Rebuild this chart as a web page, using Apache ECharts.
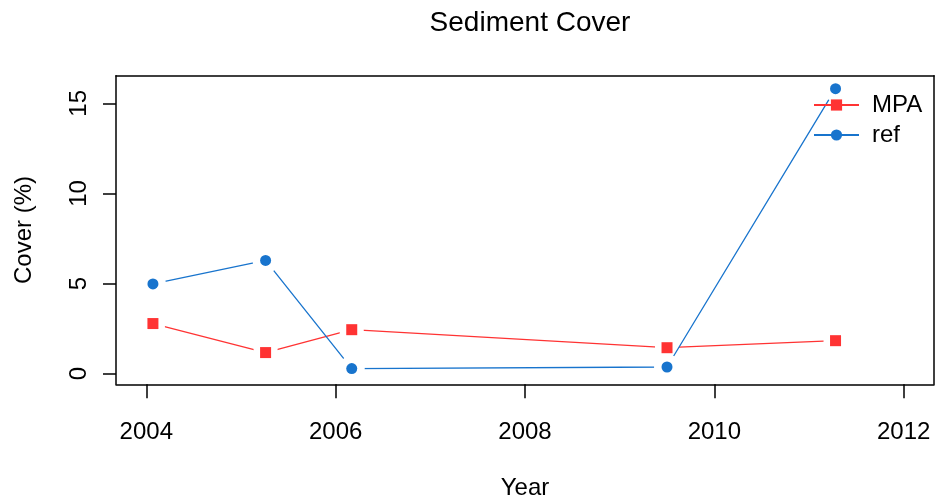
<!DOCTYPE html>
<html>
<head>
<meta charset="utf-8">
<script src="https://cdn.jsdelivr.net/npm/echarts@6/dist/echarts.min.js"></script>
<style>html,body{margin:0;padding:0;background:#fff;}#c{width:936px;height:499px;}</style>
</head>
<body>
<div id="c"></div>
<script>
var years = [2004.07, 2005.26, 2006.17, 2009.50, 2011.28];
var mpaValues = [2.78, 1.17, 2.44, 1.44, 1.83];
var refValues = [4.98, 6.28, 0.28, 0.37, 15.81];
var xTicks = [2004, 2006, 2008, 2010, 2012];
var yTicks = [0, 5, 10, 15];
var seriesNames = ['MPA', 'ref'];

function pairs(xs, ys) { return xs.map(function (x, i) { return [x, ys[i]]; }); }

var FONT = '"Liberation Sans", Arial, Helvetica, sans-serif';
var RED = '#FF3333';
var BLUE = '#1874CD';
var XMIN = 2003.68, XMAX = 2012.32, YMIN = -0.59, YMAX = 16.53;
var frameLine = { show: true, onZero: false, lineStyle: { color: '#000', width: 1.5 } };

var chart = echarts.init(document.getElementById('c'), null, { renderer: 'canvas' });
chart.setOption({
  animation: false,
  backgroundColor: '#fff',
  title: {
    text: 'Sediment Cover',
    left: 525, top: 4, textAlign: 'center',
    textStyle: { fontFamily: FONT, fontSize: 28, fontWeight: 'normal', color: '#000' }
  },
  grid: {
    left: 116, right: 2, top: 75.7, bottom: 114.7,
    outerBoundsMode: 'none', containLabel: false, show: false
  },
  legend: {
    orient: 'vertical', left: 808, top: 88,
    itemWidth: 45, itemHeight: 14, itemGap: 6,
    textStyle: { fontFamily: FONT, fontSize: 24, color: '#000', lineHeight: 24, padding: [0, 0, 0, 8] },
    data: [
      { name: seriesNames[0], itemStyle: { borderWidth: 0, color: RED } },
      { name: seriesNames[1], itemStyle: { borderWidth: 0, color: BLUE } }
    ]
  },
  xAxis: [{
    type: 'value', min: XMIN, max: XMAX, position: 'bottom', z: 10,
    name: 'Year', nameLocation: 'middle', nameGap: 92,
    nameTextStyle: { fontFamily: FONT, fontSize: 24, color: '#000' },
    axisLine: frameLine,
    splitLine: { show: false },
    axisTick: { show: true, length: 14, lineStyle: { color: '#000', width: 1.5 }, customValues: xTicks },
    axisLabel: { fontFamily: FONT, fontSize: 24, color: '#000', margin: 36, customValues: xTicks,
      formatter: function (v) { return String(v); } }
  }, {
    type: 'value', min: XMIN, max: XMAX, position: 'top', z: 10,
    axisLine: frameLine, axisTick: { show: false }, axisLabel: { show: false }, splitLine: { show: false }
  }],
  yAxis: [{
    type: 'value', min: YMIN, max: YMAX, position: 'left', z: 10,
    name: 'Cover (%)', nameLocation: 'middle', nameGap: 80, nameRotate: 90,
    nameTextStyle: { fontFamily: FONT, fontSize: 24, color: '#000' },
    axisLine: frameLine,
    splitLine: { show: false },
    axisTick: { show: true, length: 13, lineStyle: { color: '#000', width: 1.5 }, customValues: yTicks },
    axisLabel: { fontFamily: FONT, fontSize: 24, color: '#000', rotate: 90, margin: 25, customValues: yTicks,
      formatter: function (v) { return String(v); } }
  }, {
    type: 'value', min: YMIN, max: YMAX, position: 'right', z: 10,
    axisLine: frameLine, axisTick: { show: false }, axisLabel: { show: false }, splitLine: { show: false }
  }],
  series: [
    {
      name: seriesNames[0], type: 'line', data: pairs(years, mpaValues),
      symbol: 'rect', symbolSize: 17, showAllSymbol: true,
      lineStyle: { color: RED, width: 1.3 },
      itemStyle: { color: '#fff', borderColor: '#fff', borderWidth: 7 },
      z: 2
    },
    {
      name: seriesNames[1], type: 'line', data: pairs(years, refValues),
      symbol: 'circle', symbolSize: 18, showAllSymbol: true,
      lineStyle: { color: BLUE, width: 1.3 },
      itemStyle: { color: '#fff', borderColor: '#fff', borderWidth: 8 },
      z: 3
    },
    {
      name: seriesNames[0], type: 'scatter', data: pairs(years, mpaValues),
      symbol: 'rect', symbolSize: 11,
      itemStyle: { color: RED, opacity: 1 },
      z: 4
    },
    {
      name: seriesNames[1], type: 'scatter', data: pairs(years, refValues),
      symbol: 'circle', symbolSize: 11,
      itemStyle: { color: BLUE, opacity: 1 },
      z: 4
    }
  ]
});
</script>
</body>
</html>
